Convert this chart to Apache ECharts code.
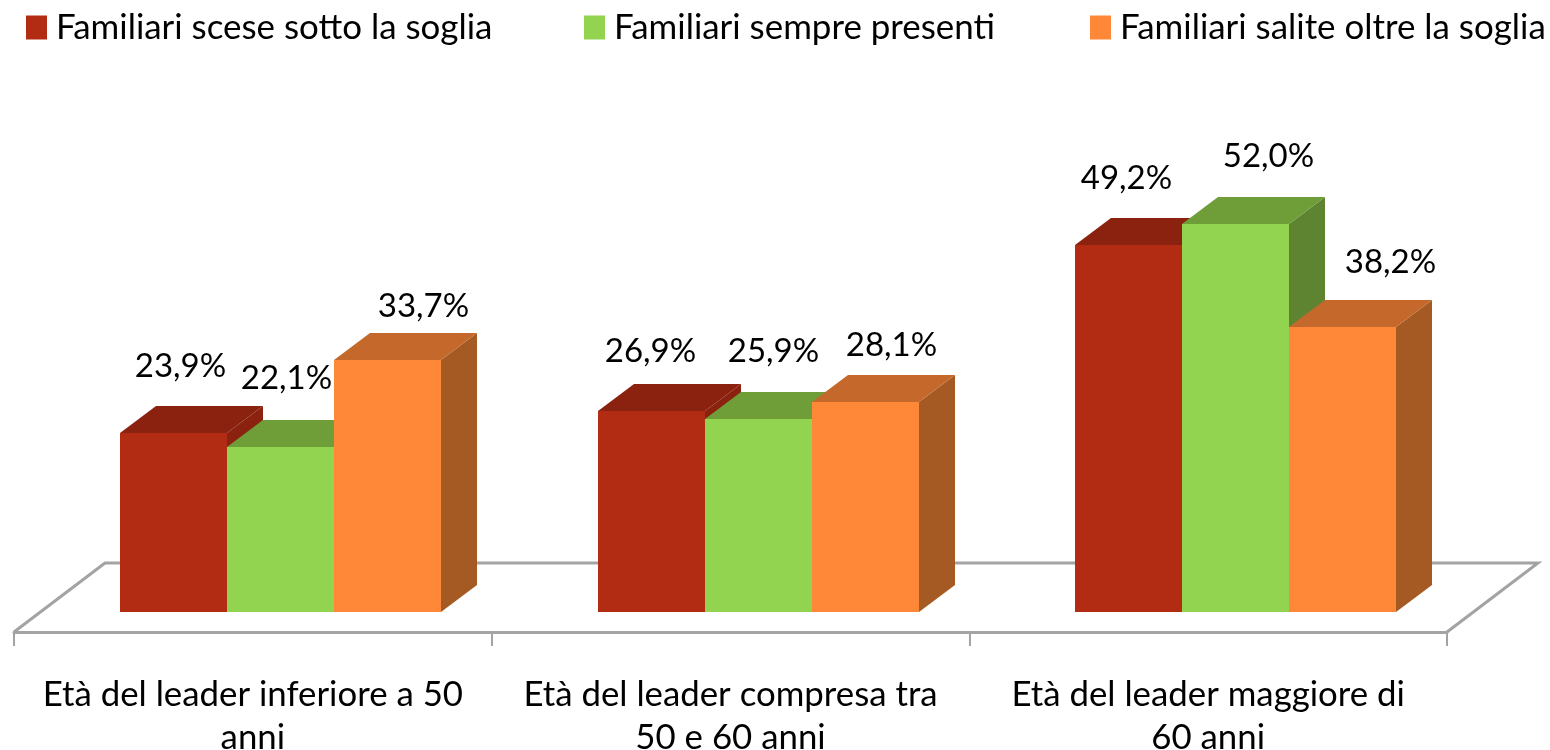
<!DOCTYPE html>
<html><head><meta charset="utf-8">
<style>html,body{margin:0;padding:0;background:#fff}#c{width:1550px;height:750px}</style>
<script src="https://cdn.jsdelivr.net/npm/echarts@6/dist/echarts.min.js"></script>
</head><body><div id="c"></div>
<script>
const categories = ['Età del leader inferiore a 50\nanni','Età del leader compresa tra\n50 e 60 anni','Età del leader maggiore di\n60 anni'];
const seriesNames = ['Familiari scese sotto la soglia','Familiari sempre presenti','Familiari salite oltre la soglia'];
const scese = [23.9,26.9,49.2];
const sempre = [22.1,25.9,52.0];
const salite = [33.7,28.1,38.2];

const FONT = 'Lato';
const palette = [
  {front:'#B22C14',top:'#8B2210',side:'#8B2210'},
  {front:'#92D350',top:'#6F9E38',side:'#5E8432'},
  {front:'#FF8838',top:'#C4682C',side:'#A55A24'}
];
// label nudges relative to the bar's top-centre (text centre)
const labelNudges = [
  [[7,-67],[-1,-60],[-2,-67]],
  [[6,-69],[15,-68],[33,-68]],
  [[36,-54],[26,-57],[48,-65]]
];
const DX=36, DY=27, LIFT=20.5;

function poly(points,fill){
  return {type:'polygon',shape:{points},style:{fill}};
}
function barRender(si){
  return function(params,api){
    const ci=api.value(0), v=api.value(1);
    const band=api.size([1,0])[0];
    const w=band*0.224;
    const c=api.coord([ci,v]);
    const base=Math.round(api.coord([ci,0])[1]-LIFT);
    const top=Math.round(c[1]-LIFT);
    const xl=c[0]+band*0.0578+(si-1)*w-w/2;
    const x0=Math.round(xl), x1=Math.round(xl+w);
    const p=palette[si], n=labelNudges[si][ci];
    return {type:'group',children:[
      poly([[x1,base],[x1+DX,base-DY],[x1+DX,top-DY],[x1,top]],p.side),
      poly([[x0,top],[x0+DX,top-DY],[x1+DX,top-DY],[x1,top]],p.top),
      {type:'rect',shape:{x:x0,y:top,width:x1-x0,height:base-top},style:{fill:p.front}},
      {type:'text',z2:100,style:{text:v.toFixed(1).replace('.',',')+'%',x:(x0+x1)/2+n[0],y:top+n[1],
        align:'center',verticalAlign:'middle',font:'33px '+FONT,fill:'#000'}}
    ]};
  };
}
function floorRender(params){
  const s=params.coordSys, yb=s.y+s.height, xl=s.x, xr=s.x+s.width;
  return {type:'polyline',shape:{points:[[xl,yb],[xl+91,yb-69],[xr+91,yb-69],[xr,yb]]},
    style:{fill:null,stroke:'#A3A3A3',lineWidth:3}};
}
const values=[scese,sempre,salite];
const series=[{type:'custom',name:'floor',silent:true,renderItem:floorRender,data:[[0,0]],encode:{x:0,y:1},z:1}];
seriesNames.forEach((name,si)=>{
  series.push({type:'custom',name,renderItem:barRender(si),z:2,
    itemStyle:{color:palette[si].front},
    encode:{x:0,y:1},
    data:values[si].map((v,i)=>[i,v])});
});
const legendLefts=[21,579,1085];
const chart=echarts.init(document.getElementById('c'),null,{renderer:'canvas'});
chart.setOption({
  animation:false,
  backgroundColor:'#fff',
  legend:seriesNames.map((n,i)=>({data:[n],left:legendLefts[i],top:5,icon:'rect',itemWidth:21,itemHeight:24,itemGap:0,
    selectedMode:false,textStyle:{fontFamily:FONT,fontSize:34.9,color:'#000',padding:[0,0,0,4]}})),
  grid:{left:14,top:36,width:1433,height:596,containLabel:false,outerBoundsMode:'none'},
  xAxis:{type:'category',data:categories,
    axisLine:{lineStyle:{color:'#A3A3A3',width:3}},
    axisTick:{show:true,length:14,lineStyle:{color:'#A3A3A3',width:2}},
    axisLabel:{interval:0,fontFamily:FONT,fontSize:34.8,color:'#000',lineHeight:43,margin:41}},
  yAxis:{type:'value',min:0,max:80,show:false,splitLine:{show:false}},
  series
});
</script></body></html>
